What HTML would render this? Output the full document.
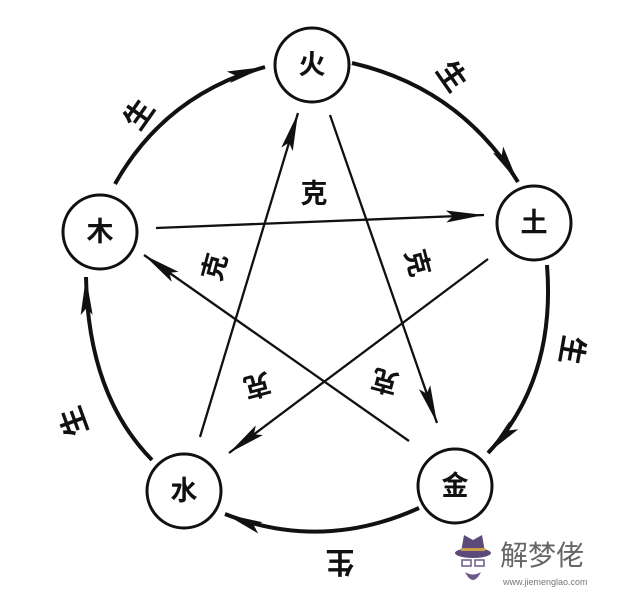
<!DOCTYPE html>
<html><head><meta charset="utf-8"><style>
html,body{margin:0;padding:0;background:#fff;}
svg{display:block;}
text{font-family:"Liberation Sans","Noto Sans CJK SC",sans-serif;fill:#111;font-weight:bold;}
</style></head><body>
<svg width="620" height="600" viewBox="0 0 620 600" xmlns="http://www.w3.org/2000/svg">
<defs>
<marker id="a" markerUnits="userSpaceOnUse" markerWidth="42" markerHeight="16" refX="38" refY="7" orient="auto">
<path d="M0,1 L38,7 L0,13 L7,7 z" fill="#111"/>
</marker>
</defs>
<g fill="none" stroke="#111">
<path d="M115,184 Q165,95 265,67" stroke-width="4" marker-end="url(#a)"/>
<path d="M352,63 Q460,88 518,182" stroke-width="4" marker-end="url(#a)"/>
<path d="M547,265 Q556,380 488,453" stroke-width="4" marker-end="url(#a)"/>
<path d="M419,508 Q322,552 225,514" stroke-width="4" marker-end="url(#a)"/>
<path d="M152,460 Q88,395 86,277" stroke-width="4" marker-end="url(#a)"/>
<path d="M156,228 L484,215" stroke-width="2.3" marker-end="url(#a)"/>
<path d="M409,441 L144,255" stroke-width="2.3" marker-end="url(#a)"/>
<path d="M200,437 L298,113" stroke-width="2.3" marker-end="url(#a)"/>
<path d="M330,115 L437,423" stroke-width="2.3" marker-end="url(#a)"/>
<path d="M488,259 L229,453" stroke-width="2.3" marker-end="url(#a)"/>
</g>
<g fill="#fff" stroke="#111" stroke-width="3">
<circle cx="312" cy="65" r="37"/>
<circle cx="100" cy="232" r="37"/>
<circle cx="534" cy="223" r="37"/>
<circle cx="184" cy="491" r="37"/>
<circle cx="455" cy="486" r="37"/>
</g>
<g font-size="27" text-anchor="middle" dominant-baseline="central">
<text x="312" y="65">火</text>
<text x="100" y="232">木</text>
<text x="534" y="223">土</text>
<text x="184" y="491">水</text>
<text x="455" y="486">金</text>
<text x="314" y="194">克</text>
<text transform="translate(215,267) rotate(-75)">克</text>
<text transform="translate(417,263) rotate(75)">克</text>
<text transform="translate(257,385) rotate(165)">克</text>
<text transform="translate(385,381) rotate(-165)">克</text>
<text font-size="29" transform="translate(140,115) rotate(-55)">生</text>
<text font-size="29" transform="translate(451,77) rotate(55)">生</text>
<text font-size="29" transform="translate(571,350) rotate(100)">生</text>
<text font-size="29" transform="translate(340,561) rotate(180)">生</text>
<text font-size="29" transform="translate(75,421) rotate(-110)">生</text>
</g>
<g>
<ellipse cx="473" cy="553" rx="18" ry="5" fill="#5b4a7a"/>
<path d="M461,552 L464,535 L473,540 L482,535 L485,552 z" fill="#5b4a7a"/>
<rect x="461" y="548" width="24" height="3" fill="#c9a04a"/>
<rect x="462" y="560" width="9" height="6" fill="none" stroke="#6a5a8a" stroke-width="1.5"/>
<rect x="475" y="560" width="9" height="6" fill="none" stroke="#6a5a8a" stroke-width="1.5"/>
<path d="M465,572 Q473,588 481,572 Q473,577 465,572 z" fill="#6a5a8a"/>
<text x="500" y="565" font-size="28" style="fill:#666;font-weight:normal">解梦佬</text>
<text x="503" y="585" font-size="9" style="fill:#777;font-weight:normal">www.jiemenglao.com</text>
</g>
</svg>
</body></html>
